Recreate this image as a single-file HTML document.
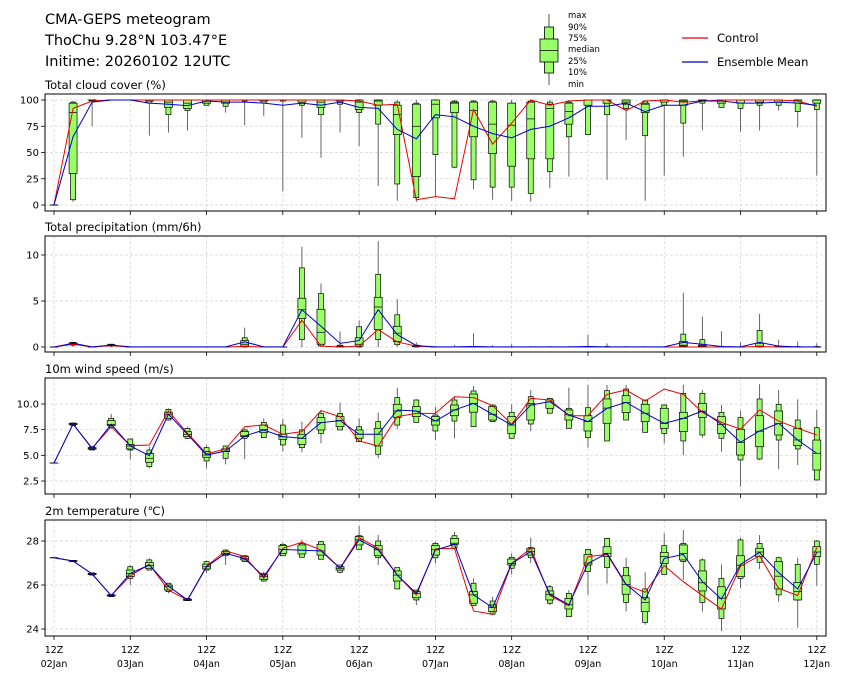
<!DOCTYPE html>
<html><head><meta charset="utf-8"><style>
body{margin:0;background:#fff;}
svg{display:block;font-family:"DejaVu Sans","Liberation Sans",sans-serif;}
</style></head><body>
<svg id="chart" width="843" height="680" viewBox="0 0 843 680" xmlns="http://www.w3.org/2000/svg">
<rect x="0" y="0" width="843" height="680" fill="#fff"/>
<g font-size="14.5" fill="#000">
<text x="45" y="24">CMA-GEPS meteogram</text>
<text x="45" y="45">ThoChu 9.28°N 103.47°E</text>
<text x="45" y="66">Initime: 20260102 12UTC</text>
</g>
<g>
<line x1="549" y1="14" x2="549" y2="85" stroke="#555" stroke-width="1"/>
<rect x="544.5" y="27" width="9" height="46" fill="#99ff66" stroke="#000" stroke-width="0.8"/>
<rect x="540" y="39" width="18" height="23" fill="#99ff66" stroke="#000" stroke-width="0.8"/>
<line x1="540" y1="50.5" x2="558" y2="50.5" stroke="#000" stroke-width="0.8"/>
<g font-size="8.5" fill="#000">
<text x="568" y="18">max</text><text x="568" y="30">90%</text><text x="568" y="41">75%</text>
<text x="568" y="52">median</text><text x="568" y="64">25%</text><text x="568" y="75">10%</text><text x="568" y="87">min</text>
</g>
</g>
<g font-size="11.5">
<line x1="682" y1="38" x2="708" y2="38" stroke="#e00" stroke-width="1.2"/>
<text x="717" y="42">Control</text>
<line x1="682" y1="62" x2="708" y2="62" stroke="#00c" stroke-width="1.2"/>
<text x="717" y="66">Ensemble Mean</text>
</g>
<g id="plots"></g>
</svg>
<script>
// ---- data: rows are [min, p10, p25, median, p75, p90, max] ----
const dayLabels = ["02Jan","03Jan","04Jan","05Jan","06Jan","07Jan","08Jan","09Jan","10Jan","11Jan","12Jan"];

const cloudStats = [[0,0,0,0,0,0,0],[3,5,30,88,97,98,99],[75,99,100,100,100,100,100],[100,100,100,100,100,100,100],[100,100,100,100,100,100,100],
[66,97,99,100,100,100,100],[69,86,93,98,100,100,100],[71,90,92,97,100,100,100],[95,95,97,100,100,100,100],[88,94,97,100,100,100,100],
[76,99,100,100,100,100,100],[85,97,99,100,100,100,100],[13,99,100,100,100,100,100],[64,95,98,100,100,100,100],[45,86,93,98,100,100,100],
[69,96,99,100,100,100,100],[56,88,91,98,100,100,100],[18,77,95,99,100,100,100],[4,20,67,86,95,98,100],[3,7,27,75,96,97,100],
[8,48,83,96,100,100,100],[35,36,88,97,98,99,100],[15,24,65,90,98,99,100],[5,17,49,77,98,99,100],[4,17,37,76,97,97,100],
[3,11,44,82,98,99,100],[16,32,44,92,96,98,100],[27,65,77,89,97,98,100],[67,67,95,100,100,100,100],[24,86,97,100,100,100,100],
[62,92,96,98,100,100,100],[4,66,88,96,97,99,100],[28,95,98,100,100,100,100],[46,78,95,99,100,100,100],[71,97,99,100,100,100,100],
[93,93,97,100,100,100,100],[70,92,97,100,100,100,100],[71,95,98,100,100,100,100],[90,95,98,100,100,100,100],[74,89,97,100,100,100,100],
[28,91,97,100,100,100,100]];
const cloudCtrl = [0,92,99,100,100,100,100,100,100,100,100,100,100,100,100,100,99,95,96,5,8,6,91,58,78,100,95,99,100,100,90,99,100,98,99,100,100,100,100,99,94];
const cloudMean = [0,65,98,100,100,97,96,94.6,99,98,98,97,95,97,95,98,93,92,72,63,86,84,75,68,64,72,75,83,94,94,97,89,95,95,99,99,97,97,98,97,95];

const precipStats = [[0,0,0,0,0,0,0],[0,0.2,0.25,0.35,0.45,0.5,0.55],[0,0,0,0,0,0,0.05],[0,0.1,0.15,0.2,0.25,0.3,0.35],[0,0,0,0,0,0,0.05],
[0,0,0,0,0,0,0.05],[0,0,0,0,0,0,0.05],[0,0,0,0,0,0,0.05],[0,0,0,0,0,0,0.05],[0,0,0,0,0,0,0.05],
[0,0,0.1,0.3,0.7,1.0,2.1],[0,0,0,0,0,0,0.05],[0,0,0,0,0,0,0.05],[0,0.8,3.1,4.05,5.3,8.6,10.9],[0,0.1,0.3,1.6,4.1,5.8,6.9],
[0,0,0,0.05,0.1,0.2,1.7],[0,0,0.1,0.3,1.0,2.2,2.9],[0,0.8,1.9,4.35,5.4,7.9,11.5],[0,0.25,0.6,1.5,2.25,3.5,5.2],[0,0,0.05,0.1,0.15,0.2,0.5],
[0,0,0,0,0,0,0.1],[0,0,0,0,0,0,0.2],[0,0,0,0,0,0.05,1.5],[0,0,0,0,0,0,0.2],[0,0,0,0,0,0,0.3],
[0,0,0,0,0,0,0.1],[0,0,0,0,0,0,0.1],[0,0,0,0,0,0,0.1],[0,0,0,0,0,0.05,1.35],[0,0,0,0,0,0.05,0.4],
[0,0,0,0,0,0,0.1],[0,0,0,0,0,0,0.1],[0,0,0,0,0,0,0.1],[0,0,0.1,0.2,0.6,1.4,5.9],[0,0,0.05,0.1,0.2,0.8,3.3],
[0,0,0,0,0,0.05,1.7],[0,0,0,0,0,0,0.5],[0,0,0.05,0.1,0.4,1.8,3.6],[0,0,0,0,0.05,0.1,0.8],[0,0,0,0,0,0.05,0.6],
[0,0,0,0,0,0.05,0.4]];
const precipCtrl = [0,0.3,0,0.15,0,0,0,0,0,0,0.05,0,0,2.9,0.1,0,0.1,1.9,0.55,0.1,0,0,0,0,0,0,0,0,0,0,0,0,0,0,0,0,0,0.05,0,0,0];
const precipMean = [0,0.4,0.02,0.2,0.02,0.02,0.02,0.02,0.02,0.02,0.55,0.02,0.02,4.05,2.25,0.4,0.7,4.05,1.35,0.15,0.02,0.02,0.05,0.02,0.02,0.02,0.02,0.02,0.05,0.02,0.02,0.02,0.02,0.5,0.3,0.05,0.02,0.5,0.1,0.02,0.02];

const windStats = [[4.25,4.25,4.25,4.25,4.25,4.25,4.25],[7.9,7.9,8.0,8.05,8.1,8.15,8.2],[5.5,5.52,5.6,5.68,5.75,5.84,5.9],[7.56,7.73,7.89,8.0,8.38,8.6,9.03],[4.61,5.52,5.62,5.9,6.07,6.59,6.65],
[3.73,3.9,4.32,4.71,5.19,5.52,5.84],[8.38,8.44,8.6,9.0,9.2,9.48,9.58],[6.59,6.66,6.82,7.05,7.31,7.63,7.79],[3.73,4.45,4.81,5.03,5.36,5.75,6.01],[4.12,4.71,5.36,5.4,5.62,5.91,5.95],
[4.64,6.66,6.82,6.9,7.31,7.47,7.63],[6.72,6.72,7.21,7.5,7.95,8.21,8.6],[5.36,6.01,6.56,6.8,7.05,7.95,8.54],[5.29,5.75,6.07,6.65,7.05,7.47,8.28],[6.17,7.14,7.47,8.2,8.67,9.09,9.42],
[7.47,7.47,7.79,8.4,8.77,9.09,10.13],[6.33,6.33,6.66,7.05,7.47,7.79,8.6],[4.71,5.1,5.91,7.05,7.63,8.28,9.16],[7.56,7.95,8.7,9.32,9.97,10.62,11.59],[8.21,8.21,8.77,9.3,9.74,10.39,10.45],
[6.49,7.37,7.95,8.35,8.77,8.93,9.74],[6.66,8.34,8.86,9.42,9.9,10.39,10.71],[7.79,7.79,9.2,10.06,10.97,11.27,11.75],[8.28,8.28,8.44,9.0,9.74,9.9,9.95],[6.66,6.66,7.14,7.95,8.77,9.19,9.97],
[7.37,8.05,8.44,9.9,10.06,10.71,11.36],[9.1,9.1,9.58,10.2,10.39,10.55,10.62],[7.63,7.63,8.44,8.95,9.42,9.58,11.59],[5.75,6.72,7.37,8.3,8.86,9.64,11.85],[6.4,6.4,8.12,9.6,10.49,11.3,11.85],
[8.44,8.44,9.16,10.15,10.81,11.46,11.85],[7.24,7.24,8.28,9.1,9.97,10.39,10.39],[6.17,7.14,7.63,8.1,9.58,9.9,9.97],[5.03,6.4,7.31,8.6,9.19,11.04,11.85],[6.72,6.98,8.7,9.3,10.06,11.04,11.36],
[5.36,6.66,7.14,8.0,8.77,9.19,9.9],[1.95,4.55,5.03,6.25,7.53,8.67,9.35],[4.55,4.64,5.84,7.35,8.86,10.49,11.92],[3.67,6.49,6.98,8.1,9.32,9.97,11.36],[4.06,5.62,5.94,6.5,7.63,8.44,10.45],
[2.6,2.6,3.57,5.2,6.49,7.69,9.42]];
const windCtrl = [4.25,8.05,5.7,7.79,5.94,6.01,9.32,7.14,5.16,5.62,7.79,7.95,7.05,7.31,9.35,8.77,6.4,5.91,8.77,9.09,9.09,10.71,10.62,9.84,8.02,10.55,10.39,8.86,8.86,10.94,11.36,10.29,11.46,10.94,9.19,8.21,7.56,9.42,8.34,7.63,6.98];
const windMean = [4.25,8.05,5.65,8.02,5.91,4.97,9.0,7.05,5.03,5.42,6.88,7.47,6.82,6.66,8.18,8.38,7.05,7.05,9.42,9.32,8.34,9.42,10.06,9.0,7.95,9.9,10.23,8.93,8.28,9.58,10.16,9.09,8.12,8.6,9.32,8.02,6.27,7.37,8.12,6.49,5.19];

const tempStats = [[27.24,27.24,27.24,27.24,27.24,27.24,27.24],[27.06,27.06,27.07,27.09,27.11,27.12,27.12],[26.45,26.45,26.47,26.5,26.53,26.55,26.55],[25.47,25.47,25.5,25.52,25.55,25.57,25.57],[26.0,26.3,26.38,26.53,26.68,26.83,26.9],
[26.68,26.68,26.76,26.88,27.02,27.14,27.21],[25.62,25.7,25.77,25.92,26.0,26.08,26.08],[25.27,25.29,25.3,25.32,25.36,25.39,25.4],[26.53,26.68,26.73,26.83,26.95,27.06,27.11],[26.91,27.33,27.39,27.44,27.52,27.59,27.62],
[27.06,27.06,27.14,27.2,27.29,27.33,27.36],[26.15,26.18,26.26,26.38,26.48,26.53,26.61],[27.33,27.33,27.44,27.62,27.79,27.85,27.92],[27.26,27.26,27.41,27.58,27.82,27.89,28.05],[27.17,27.17,27.36,27.55,27.85,27.97,28.0],
[26.53,26.58,26.68,26.76,26.83,26.91,26.91],[27.62,27.62,27.82,28.05,28.2,28.24,28.7],[26.91,27.24,27.33,27.6,27.79,28.0,28.27],[25.82,25.82,26.18,26.45,26.64,26.79,26.79],[25.09,25.32,25.42,25.62,25.7,25.77,25.77],
[26.98,27.24,27.36,27.6,27.79,27.89,27.97],[27.67,27.67,27.85,27.9,28.12,28.24,28.42],[25.06,25.06,25.17,25.55,25.7,26.08,26.3],[24.67,24.67,24.79,24.97,25.09,25.27,25.47],[26.48,26.76,26.91,26.98,27.18,27.26,27.44],
[26.98,27.24,27.36,27.52,27.67,27.7,28.15],[25.09,25.17,25.32,25.58,25.73,25.92,26.0],[24.56,24.56,24.91,25.1,25.39,25.62,25.77],[25.55,26.61,26.91,27.0,27.39,27.62,27.65],[26.07,26.79,27.29,27.44,27.74,28.12,28.15],
[24.8,25.21,25.58,26.03,26.42,26.8,27.24],[24.2,24.3,24.79,25.2,25.42,25.82,26.58],[26.48,26.48,26.98,27.3,27.48,27.79,28.35],[26.23,27.06,27.14,27.44,27.82,27.89,28.5],[24.79,25.21,25.73,26.1,26.64,27.14,27.21],
[23.91,24.48,24.91,25.4,25.92,26.3,26.94],[25.85,26.3,26.38,26.9,27.33,28.05,28.15],[26.73,27.03,27.29,27.5,27.67,27.89,28.27],[25.24,25.55,25.82,26.4,27.06,27.24,27.29],[24.06,25.32,25.32,25.7,26.12,26.94,27.24],
[25.97,26.94,27.29,27.5,27.74,28.0,28.05]];
const tempCtrl = [27.24,27.09,26.5,25.52,26.42,26.94,25.77,25.32,26.86,27.55,27.29,26.3,27.67,27.94,27.59,26.76,28.15,27.67,26.45,25.55,27.64,27.67,24.82,24.67,26.98,27.67,25.52,25.06,27.29,27.39,26.0,25.67,26.88,26.15,25.52,24.91,26.86,27.33,25.85,25.52,27.7];
const tempMean = [27.24,27.09,26.5,25.52,26.53,26.91,25.95,25.32,26.83,27.44,27.2,26.38,27.62,27.58,27.55,26.76,28.05,27.6,26.45,25.62,27.59,27.85,25.55,24.97,26.98,27.52,25.58,25.1,26.98,27.44,26.03,25.32,27.21,27.39,26.15,25.36,26.94,27.48,26.56,25.82,27.48];

const cloudTicks = [0,25,50,75,100];
const precipTicks = [0,5,10];
const windTicks = [2.5,5,7.5,10];
const tempTicks = [24,26,28];

// ---- layout ----
const NS = "http://www.w3.org/2000/svg";
const plots = document.getElementById('plots');
const X0 = 45, X1 = 826;
function xScale(i){ return 54 + i * 19.07; }
function mk(tag, attrs, parent){ const e = document.createElementNS(NS, tag); for (const k in attrs) e.setAttribute(k, attrs[k]); parent.appendChild(e); return e; }

const panels = [
 {key:'cloud', title:'Total cloud cover (%)', top:94, bot:211, v0:0, p0:205, v1:100, p1:100, ticks:cloudTicks, fmt:v=>String(v), stats:cloudStats, ctrl:cloudCtrl, mean:cloudMean},
 {key:'precip', title:'Total precipitation (mm/6h)', top:236, bot:352, v0:0, p0:347, v1:10, p1:255, ticks:precipTicks, fmt:v=>String(v), stats:precipStats, ctrl:precipCtrl, mean:precipMean},
 {key:'wind', title:'10m wind speed (m/s)', top:378, bot:494, v0:2.5, p0:481, v1:10, p1:404, ticks:windTicks, fmt:v=>v.toFixed(1), stats:windStats, ctrl:windCtrl, mean:windMean},
 {key:'temp', title:'2m temperature (℃)', top:520, bot:636, v0:24, p0:629, v1:28, p1:541, ticks:tempTicks, fmt:v=>String(v), stats:tempStats, ctrl:tempCtrl, mean:tempMean}
];

panels.forEach((P, pi) => {
  const yS = v => P.p0 + (v - P.v0) * (P.p1 - P.p0) / (P.v1 - P.v0);
  const g = mk('g', {}, plots);
  
  
  const t = mk('text', {x:45, y:P.top - 5, 'font-size':11.5}, g);
  
  
  t.textContent = P.title;
  for (let d = 0; d < dayLabels.length; d++) {
    const x = xScale(d * 4);
    const gl = mk('line', {x1:x, x2:x, y1:P.top, y2:P.bot, stroke:'#d4d4d4', 'stroke-width':0.7, 'stroke-dasharray':'3,2'}, g);
    
    
    const tk = mk('line', {x1:x, x2:x, y1:P.bot, y2:P.bot + 4, stroke:'#000', 'stroke-width':0.8}, g);
    
    
  }
  P.ticks.forEach(v => {
    const y = yS(v);
    const gl = mk('line', {x1:X0, x2:X1, y1:y, y2:y, stroke:'#d4d4d4', 'stroke-width':0.7, 'stroke-dasharray':'3,2'}, g);
    
    
    const tk = mk('line', {x1:X0 - 4, x2:X0, y1:y, y2:y, stroke:'#000', 'stroke-width':0.8}, g);
    
    
    const tl = mk('text', {x:X0 - 6, y:y + 3.5, 'font-size':10, 'text-anchor':'end'}, g);
    
    
    tl.textContent = P.fmt(v);
  });
  P.stats.forEach((s, i) => {
    const x = xScale(i);
    const w = mk('line', {x1:x, x2:x, y1:yS(s[0]), y2:yS(s[6]), stroke:'#555', 'stroke-width':0.9}, g);
    
    
  });
  P.stats.forEach((s, i) => {
    const x = xScale(i);
    const o = mk('rect', {x:x - 2.5, y:yS(s[5]), width:5, height:Math.max(0.1, yS(s[1]) - yS(s[5])), fill:'#99ff66', stroke:'#000', 'stroke-width':0.7}, g);
    
    
    const b = mk('rect', {x:x - 4, y:yS(s[4]), width:8, height:Math.max(0.1, yS(s[2]) - yS(s[4])), fill:'#99ff66', stroke:'#000', 'stroke-width':0.7}, g);
    
    
    const m = mk('line', {x1:x - 4, x2:x + 4, y1:yS(s[3]), y2:yS(s[3]), stroke:'#000', 'stroke-width':0.7}, g);
    
    
  });
  const cl = mk('polyline', {points:P.ctrl.map((v, i) => xScale(i) + ',' + yS(v)).join(' '), fill:'none', stroke:'#e00', 'stroke-width':1}, g);
  
  
  const ml = mk('polyline', {points:P.mean.map((v, i) => xScale(i) + ',' + yS(v)).join(' '), fill:'none', stroke:'#00c', 'stroke-width':1}, g);
  
  
  const fr = mk('rect', {x:X0, y:P.top, width:X1 - X0, height:P.bot - P.top, fill:'none', stroke:'#000', 'stroke-width':1}, g);
  
  
  if (pi === panels.length - 1) {
    dayLabels.forEach((d, k) => {
      const x = xScale(k * 4);
      const a = mk('text', {x:x, y:P.bot + 17, 'font-size':9.5, 'text-anchor':'middle'}, g);
      
      
      a.textContent = '12Z';
      const b = mk('text', {x:x, y:P.bot + 31, 'font-size':9.5, 'text-anchor':'middle'}, g);
      
      
      b.textContent = d;
    });
  }
});
</script>
</body></html>
